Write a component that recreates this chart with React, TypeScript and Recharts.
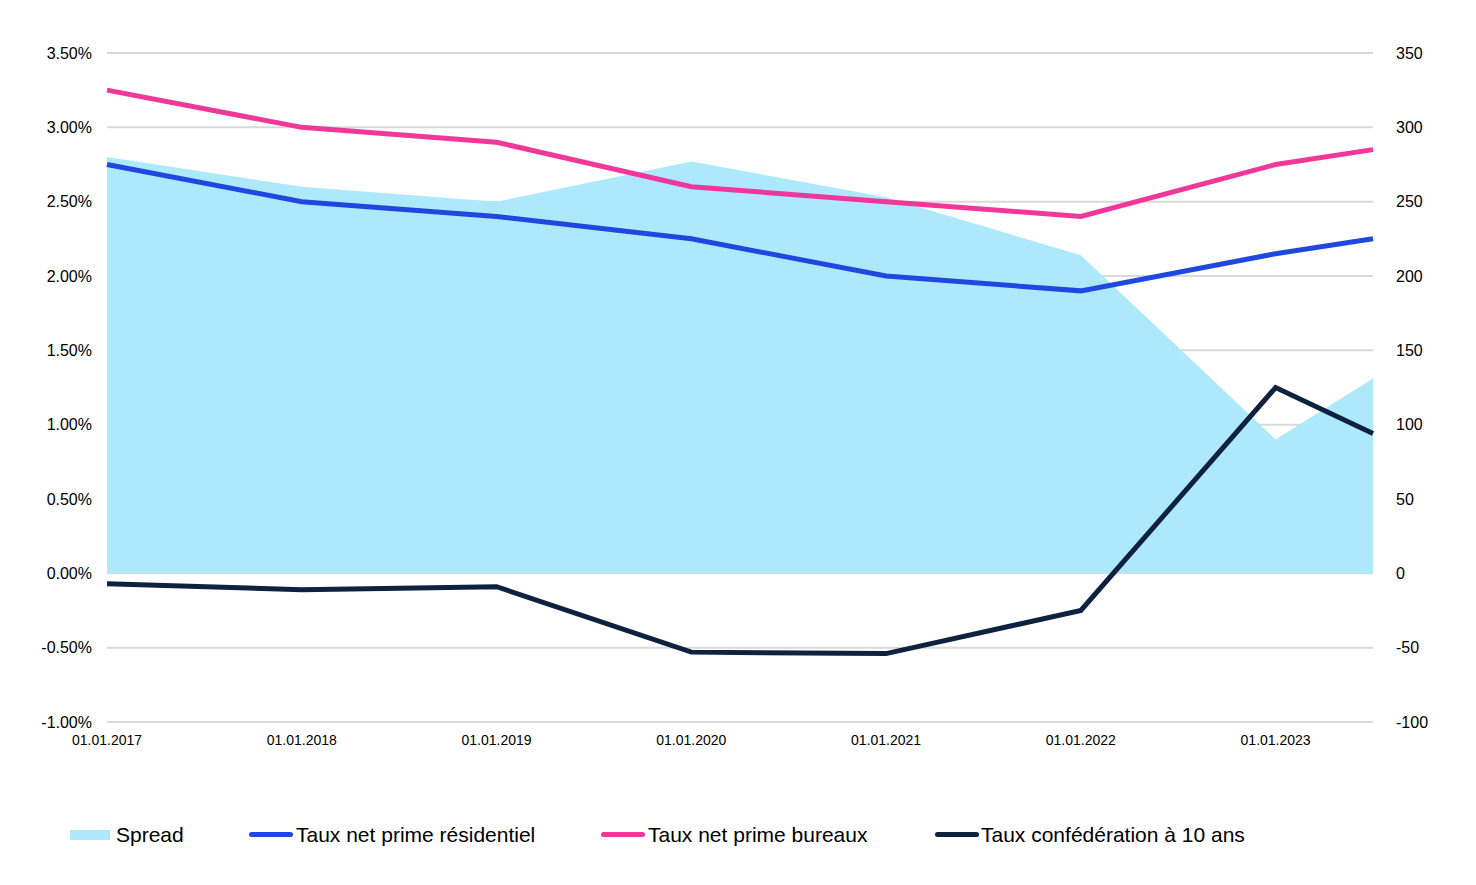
import { ComposedChart, Area, Line, XAxis, YAxis, CartesianGrid } from 'recharts';

const dates = [2017, 2018, 2019, 2020, 2021, 2022, 2023, 2023.5];
const spread = [280, 260, 250, 277, 253, 214, 90, 131];
const residentiel = [2.75, 2.5, 2.4, 2.25, 2.0, 1.9, 2.15, 2.25];
const bureaux = [3.25, 3.0, 2.9, 2.6, 2.5, 2.4, 2.75, 2.85];
const confederation = [-0.07, -0.11, -0.09, -0.53, -0.54, -0.25, 1.25, 0.94];

const xTicks = [2017, 2018, 2019, 2020, 2021, 2022, 2023];
const leftTicks = [-1, -0.5, 0, 0.5, 1, 1.5, 2, 2.5, 3, 3.5];
const rightTicks = [-100, -50, 0, 50, 100, 150, 200, 250, 300, 350];

const data = dates.map((d, i) => ({
  date: d,
  spread: spread[i],
  residentiel: residentiel[i],
  bureaux: bureaux[i],
  confederation: confederation[i],
}));

const COLORS = {
  spread: '#ade9fb',
  residentiel: '#1f48e0',
  bureaux: '#f0389a',
  confederation: '#0e223f',
};

const legendItems = [
  { name: 'Spread', color: COLORS.spread, type: 'rect', swatchX: 70, textX: 116 },
  { name: 'Taux net prime résidentiel', color: COLORS.residentiel, type: 'line', swatchX: 249, textX: 296 },
  { name: 'Taux net prime bureaux', color: COLORS.bureaux, type: 'line', swatchX: 601, textX: 648 },
  { name: 'Taux confédération à 10 ans', color: COLORS.confederation, type: 'line', swatchX: 935, textX: 981 },
];

const font = '"Liberation Sans", Arial, sans-serif';

const App = () => {
  return (
    <div style={{ position: 'relative', width: 1476, height: 885, background: '#fff', fontFamily: font }}>
      <style>{'body{margin:0}'}</style>
      <ComposedChart
        width={1476}
        height={885}
        data={data}
        margin={{ top: 53, right: 0, bottom: 133, left: 0 }}
      >
        <CartesianGrid vertical={false} stroke="#d9d9d9" strokeWidth={2} yAxisId="left" />
        <XAxis
          dataKey="date"
          type="number"
          domain={[2017, 2023.5]}
          ticks={xTicks}
          tickFormatter={(v) => `01.01.${v}`}
          axisLine={false}
          tickLine={false}
          tickSize={0}
          tickMargin={13}
          height={30}
          tick={{ fill: '#000', fontSize: 14, fontFamily: font }}
        />
        <YAxis
          yAxisId="left"
          orientation="left"
          width={107}
          domain={[-1, 3.5]}
          ticks={leftTicks}
          tickFormatter={(v) => `${v.toFixed(2)}%`}
          axisLine={false}
          tickLine={false}
          tickSize={0}
          tickMargin={15}
          tick={{ fill: '#000', fontSize: 16, fontFamily: font }}
        />
        <YAxis
          yAxisId="right"
          orientation="right"
          width={103}
          domain={[-100, 350]}
          ticks={rightTicks}
          axisLine={false}
          tickLine={false}
          tickSize={0}
          tickMargin={23}
          tick={{ fill: '#000', fontSize: 16, fontFamily: font }}
        />
        <Area
          yAxisId="right"
          dataKey="spread"
          type="linear"
          fill={COLORS.spread}
          fillOpacity={1}
          stroke="none"
          isAnimationActive={false}
        />
        <Line
          yAxisId="left"
          dataKey="residentiel"
          type="linear"
          stroke={COLORS.residentiel}
          strokeWidth={5}
          dot={false}
          isAnimationActive={false}
        />
        <Line
          yAxisId="left"
          dataKey="bureaux"
          type="linear"
          stroke={COLORS.bureaux}
          strokeWidth={5}
          dot={false}
          isAnimationActive={false}
        />
        <Line
          yAxisId="left"
          dataKey="confederation"
          type="linear"
          stroke={COLORS.confederation}
          strokeWidth={5}
          dot={false}
          isAnimationActive={false}
        />
      </ComposedChart>
      {/* Legend */}
      {legendItems.map((item) => (
        <div key={item.name}>
          {item.type === 'rect' ? (
            <div
              style={{ position: 'absolute', left: item.swatchX, top: 830, width: 40, height: 10, background: item.color }}
            />
          ) : (
            <div
              style={{
                position: 'absolute',
                left: item.swatchX,
                top: 832,
                width: 44,
                height: 5,
                borderRadius: 3,
                background: item.color,
              }}
            />
          )}
          <span
            style={{
              position: 'absolute',
              left: item.textX,
              top: 821,
              fontSize: 21,
              lineHeight: '27px',
              color: '#000',
              whiteSpace: 'nowrap',
            }}
          >
            {item.name}
          </span>
        </div>
      ))}
    </div>
  );
};

export default App;
